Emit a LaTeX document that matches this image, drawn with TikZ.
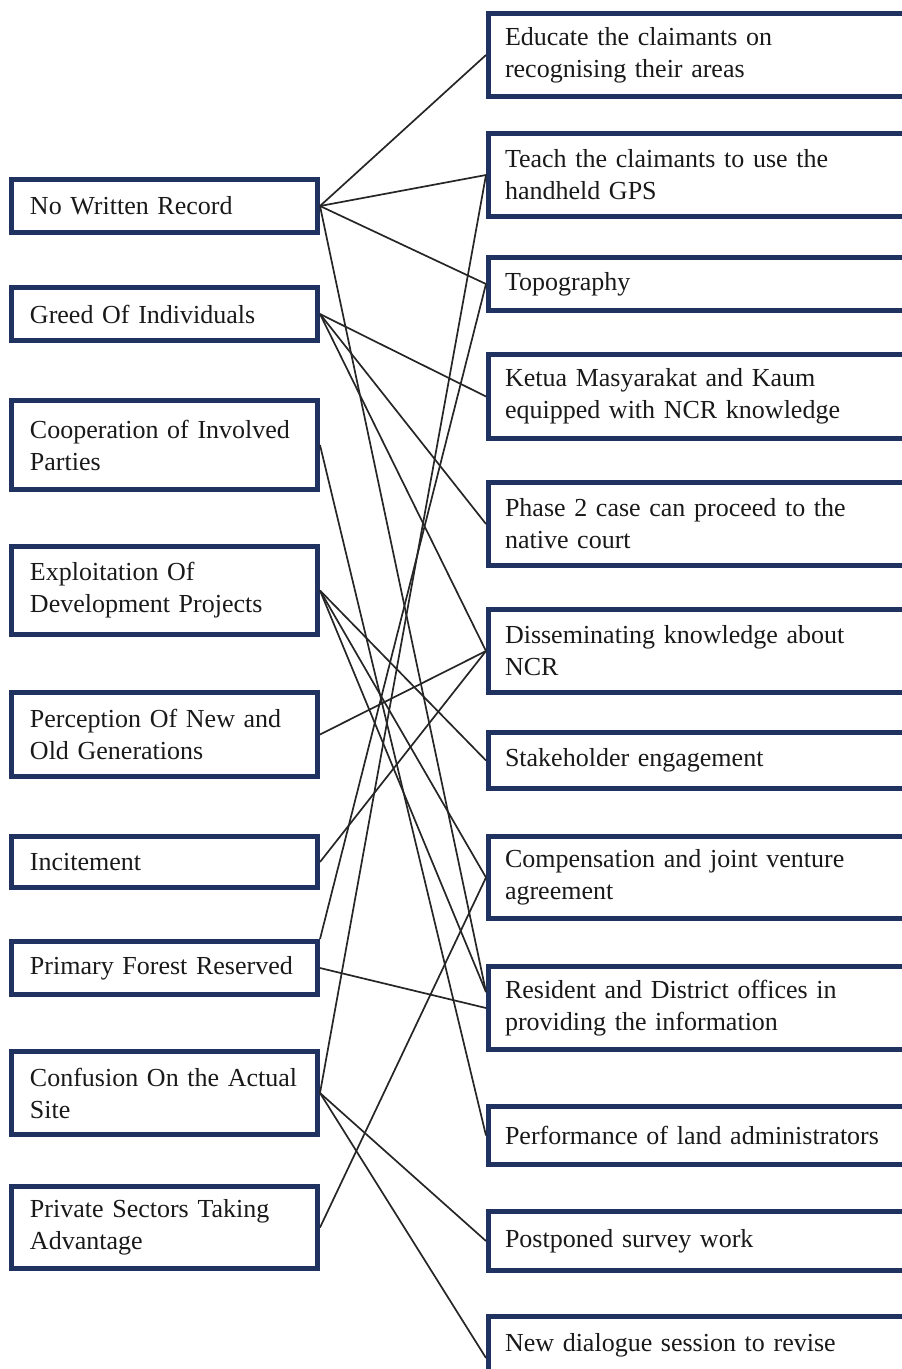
\documentclass[tikz,border=0pt]{standalone}
\usepackage{fontspec}
\setmainfont{Liberation Serif}
\usepackage{xcolor}
\usetikzlibrary{positioning}
\definecolor{boxnavy}{HTML}{1F3260}

\begin{document}
\begin{tikzpicture}[x=1pt, y=1pt]
    \tikzstyle{cause} = [draw=boxnavy, line width=5pt, rectangle, text width=269pt, inner xsep=18.5pt, inner ysep=0pt, align=left, font=\fontsize{26}{32}\selectfont, text=black!90]
    \tikzstyle{remedy} = [draw=boxnavy, line width=5pt, rectangle, text width=400pt, inner xsep=16.5pt, inner ysep=0pt, align=left, font=\fontsize{26}{32}\selectfont, text=black!90]
    \tikzstyle{link} = [line width=1.7pt, black!85]

    \useasboundingbox (0,0) rectangle (902,-1369);
    \clip (0,0) rectangle (902,-1369);

    % problems (left column)
    \node [cause, minimum height=53pt] (record) at (164.5,-206) {No Written Record};
    \node [cause, minimum height=53pt] (greed) at (164.5,-314) {Greed Of Individuals};
    \node [cause, minimum height=89pt] (coop) at (164.5,-445) {Cooperation of Involved\\Parties};
    \node [cause, minimum height=88pt] (exploit) at (164.5,-590.5) {Exploitation Of\\Development Projects};
    \node [cause, minimum height=84pt] (percep) at (164.5,-734.5) {Perception Of New and\\Old Generations};
    \node [cause, minimum height=51pt] (incite) at (164.5,-862) {Incitement};
    \node [cause, minimum height=53pt] (forest) at (164.5,-968) {Primary Forest Reserved};
    \node [cause, minimum height=83pt] (confuse) at (164.5,-1093) {Confusion On the Actual\\Site};
    \node [cause, minimum height=82pt] (private) at (164.5,-1227.5) {Private Sectors Taking\\Advantage};

    % solutions (right column)
    \node [remedy, minimum height=83pt] (educate) at (705,-55) {Educate the claimants on\\recognising their areas};
    \node [remedy, minimum height=83pt] (teach) at (705,-175) {Teach the claimants to use the\\handheld GPS};
    \node [remedy, minimum height=53pt] (topo) at (705,-284) {Topography};
    \node [remedy, minimum height=84pt] (ketua) at (705,-396.5) {Ketua Masyarakat and Kaum\\equipped with NCR knowledge};
    \node [remedy, minimum height=83pt] (phase) at (705,-524) {Phase 2 case can proceed to the\\native court};
    \node [remedy, minimum height=83pt] (dissem) at (705,-651) {Disseminating knowledge about\\NCR};
    \node [remedy, minimum height=56pt] (stake) at (705,-760.5) {Stakeholder engagement};
    \node [remedy, minimum height=82pt] (comp) at (705,-877.5) {Compensation and joint venture\\agreement};
    \node [remedy, minimum height=83pt] (resident) at (705,-1008) {Resident and District offices in\\providing the information};
    \node [remedy, minimum height=58pt] (perform) at (705,-1135.5) {Performance of land administrators};
    \node [remedy, minimum height=59pt] (postpone) at (705,-1241) {Postponed survey work};
    \node [remedy, minimum height=83pt] (dialogue) at (705,-1358) {New dialogue session to revise\\\mbox{}};

    \coordinate (resident in) at ([yshift=16pt]resident.west);

    % links
    \draw [link] (record.east) -- (educate.west);
    \draw [link] (record.east) -- (teach.west);
    \draw [link] (record.east) -- (topo.west);
    \draw [link] (record.east) -- (resident in);
    \draw [link] (greed.east) -- (ketua.west);
    \draw [link] (greed.east) -- (phase.west);
    \draw [link] (greed.east) -- (dissem.west);
    \draw [link] (coop.east) -- (perform.west);
    \draw [link] (exploit.east) -- (stake.west);
    \draw [link] (exploit.east) -- (comp.west);
    \draw [link] (exploit.east) -- (resident in);
    \draw [link] (percep.east) -- (dissem.west);
    \draw [link] (incite.east) -- (dissem.west);
    \draw [link] (forest.north east) -- (topo.west);
    \draw [link] (forest.east) -- (resident.west);
    \draw [link] (confuse.east) -- (teach.west);
    \draw [link] (confuse.east) -- (postpone.west);
    \draw [link] (confuse.east) -- (dialogue.west);
    \draw [link] (private.east) -- (comp.west);
\end{tikzpicture}
\end{document}
